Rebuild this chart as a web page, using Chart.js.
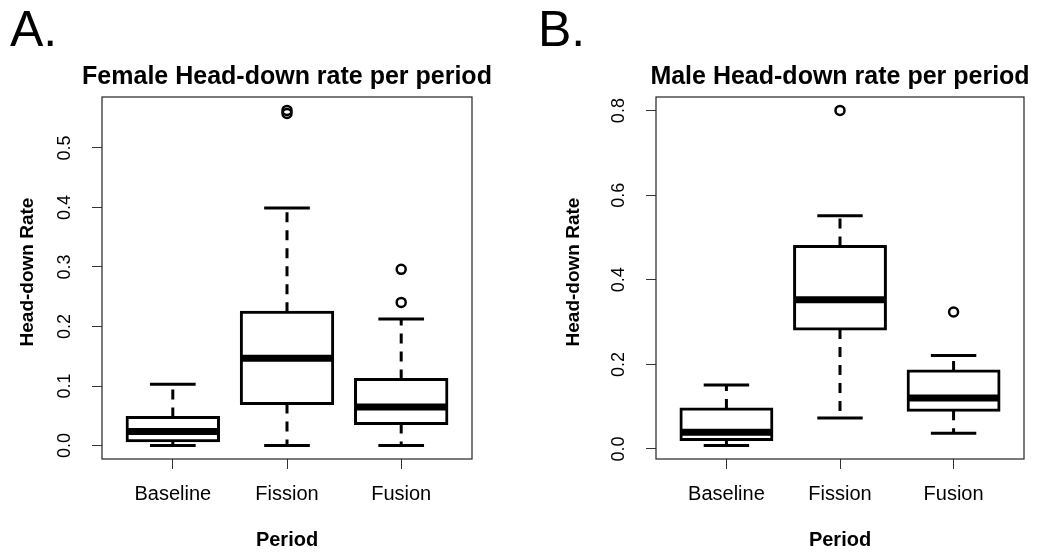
<!DOCTYPE html>
<html>
<head>
<meta charset="utf-8">
<script src="https://cdn.jsdelivr.net/npm/chart.js@4.4.0/dist/chart.umd.min.js"></script>
<style>
    html, body { margin: 0; padding: 0; background: #fff; }
    #wrap { position: relative; width: 1037px; height: 554px; overflow: hidden; }
    .panel { position: absolute; top: 0; height: 554px; }
    #panelA { left: 0; width: 527px; }
    #panelB { left: 527px; width: 510px; }
    .tag { position: absolute; top: 4px; font: 50px "Liberation Sans", Arial, sans-serif; line-height: 1; color: #000; }
</style>
</head>
<body>
<div id="wrap">
    <div class="panel" id="panelA"><canvas id="femaleChart"></canvas></div>
    <div class="panel" id="panelB"><canvas id="maleChart"></canvas></div>
    <div class="tag" style="left:10px">A.</div>
    <div class="tag" style="left:538px">B.</div>
</div>
<script>
    var periods = ['Baseline', 'Fission', 'Fusion'];

    // female head-down rate: whisker ends, quartiles, medians, outliers
    var femaleLow = [0.0, 0.0, 0.0];
    var femaleQ1 = [0.008, 0.0705, 0.037];
    var femaleMedian = [0.0235, 0.1465, 0.065];
    var femaleQ3 = [0.047, 0.224, 0.111];
    var femaleHigh = [0.103, 0.399, 0.2125];
    var femaleOutliers = [[], [0.558, 0.563], [0.2405, 0.296]];
    var femaleTicks = [0.0, 0.1, 0.2, 0.3, 0.4, 0.5];

    // male head-down rate
    var maleLow = [0.008, 0.0733, 0.0369];
    var maleQ1 = [0.0227, 0.2837, 0.0913];
    var maleMedian = [0.0393, 0.353, 0.1206];
    var maleQ3 = [0.0946, 0.479, 0.1844];
    var maleHigh = [0.151, 0.5515, 0.2213];
    var maleOutliers = [[], [0.8005], [0.324]];
    var maleTicks = [0.0, 0.2, 0.4, 0.6, 0.8];

    var fontFamily = '"Liberation Sans", Arial, Helvetica, sans-serif';
    Chart.defaults.font.family = fontFamily;
    Chart.defaults.color = '#000';

    // frame around the plot region, main title, rotated y tick labels and y axis title (R style)
    var rAxisLabels = {
        id: 'rAxisLabels',
        afterDraw: function (chart, args, opts) {
            var ctx = chart.ctx;
            var area = chart.chartArea;
            var yScale = chart.scales.y;
            ctx.save();
            ctx.strokeStyle = '#222';
            ctx.lineWidth = 1.2;
            ctx.strokeRect(area.left, area.top, area.right - area.left, area.bottom - area.top);
            ctx.fillStyle = '#000';
            ctx.textAlign = 'center';
            ctx.textBaseline = 'middle';
            ctx.font = 'bold 25px ' + fontFamily;
            ctx.fillText(opts.main, (area.left + area.right) / 2, 77);
            ctx.font = '18px ' + fontFamily;
            opts.ticks.forEach(function (v) {
                ctx.save();
                ctx.translate(area.left - 37, yScale.getPixelForValue(v));
                ctx.rotate(-Math.PI / 2);
                ctx.fillText(v.toFixed(1), 0, 0);
                ctx.restore();
            });
            ctx.font = 'bold 19px ' + fontFamily;
            ctx.translate(area.left - opts.titleOffset, (area.top + area.bottom) / 2 - 6);
            ctx.rotate(-Math.PI / 2);
            ctx.fillText(opts.title, 0, 0);
            ctx.restore();
        }
    };

    function boxplot(id, title, s, ticks, yWidth, rightPad, yTitleOffset) {
        var boxes = [], whiskers = [], caps = [], medians = [], points = [];
        var all = [];
        periods.forEach(function (p, i) {
            var x = i + 1;
            boxes.push({ x: x, y: [s.q1[i], s.q3[i]] });
            whiskers.push({ x: x, y: s.q3[i] }, { x: x, y: s.high[i] }, { x: x, y: null },
                { x: x, y: s.q1[i] }, { x: x, y: s.low[i] }, { x: x, y: null });
            caps.push({ x: x - 0.2, y: s.high[i] }, { x: x + 0.2, y: s.high[i] }, { x: x, y: null },
                { x: x - 0.2, y: s.low[i] }, { x: x + 0.2, y: s.low[i] }, { x: x, y: null });
            medians.push({ x: x - 0.4, y: s.median[i] }, { x: x + 0.4, y: s.median[i] }, { x: x, y: null });
            s.outliers[i].forEach(function (v) {
                points.push({ x: x, y: v });
            });
            all = all.concat([s.low[i], s.high[i]], s.outliers[i]);
        });

        // axis limits padded by 4% like base R
        var lo = Math.min.apply(null, all), hi = Math.max.apply(null, all);
        var pad = (hi - lo) * 0.04;
        var xPad = periods.length * 0.04;

        return new Chart(document.getElementById(id), {
            type: 'bar',
            data: {
                datasets: [{
                    type: 'line',
                    data: whiskers,
                    borderColor: '#000',
                    borderWidth: 3,
                    borderDash: [10, 8],
                    pointRadius: 0,
                    spanGaps: false,
                    order: 4
                }, {
                    type: 'bar',
                    data: boxes,
                    backgroundColor: '#fff',
                    borderColor: '#000',
                    borderWidth: 3,
                    borderSkipped: false,
                    inflateAmount: 1.5,
                    barPercentage: 0.8,
                    categoryPercentage: 1,
                    order: 3
                }, {
                    type: 'line',
                    data: caps,
                    borderColor: '#000',
                    borderWidth: 3,
                    pointRadius: 0,
                    spanGaps: false,
                    order: 2
                }, {
                    type: 'line',
                    data: medians,
                    borderColor: '#000',
                    borderWidth: 7,
                    borderCapStyle: 'butt',
                    pointRadius: 0,
                    spanGaps: false,
                    order: 1
                }, {
                    type: 'scatter',
                    data: points,
                    pointRadius: 4.5,
                    pointBorderWidth: 2.5,
                    borderColor: '#000',
                    backgroundColor: 'rgba(0,0,0,0)',
                    order: 0
                }]
            },
            options: {
                responsive: true,
                maintainAspectRatio: false,
                animation: false,
                layout: { padding: { left: 0, right: rightPad, top: 97, bottom: 0 } },
                plugins: {
                    legend: { display: false },
                    tooltip: { enabled: false },
                    title: { display: false },
                    rAxisLabels: { main: title, ticks: ticks, title: 'Head-down Rate', titleOffset: yTitleOffset }
                },
                scales: {
                    x: {
                        type: 'linear',
                        min: 0.5 - xPad,
                        max: periods.length + 0.5 + xPad,
                        offset: false,
                        afterBuildTicks: function (sc) {
                            sc.ticks = periods.map(function (p, i) { return { value: i + 1 }; });
                        },
                        afterFit: function (sc) { sc.height = 95; },
                        ticks: {
                            callback: function (v, i) { return periods[i]; },
                            font: { size: 20 },
                            color: '#000',
                            padding: 13,
                            maxRotation: 0,
                            autoSkip: false
                        },
                        grid: { drawOnChartArea: false, tickLength: 10, color: '#333', offset: false },
                        border: { display: false },
                        title: {
                            display: true,
                            text: 'Period',
                            color: '#000',
                            font: { size: 20, weight: 'bold' },
                            padding: { top: 0, bottom: 2 }
                        }
                    },
                    y: {
                        type: 'linear',
                        min: lo - pad,
                        max: hi + pad,
                        afterBuildTicks: function (sc) {
                            sc.ticks = ticks.map(function (v) { return { value: v }; });
                        },
                        afterFit: function (sc) { sc.width = yWidth; },
                        ticks: { display: false },
                        grid: { drawOnChartArea: false, tickLength: 10, color: '#333' },
                        border: { display: false }
                    }
                }
            },
            plugins: [rAxisLabels]
        });
    }

    boxplot('femaleChart', 'Female Head-down rate per period', {
        low: femaleLow, q1: femaleQ1, median: femaleMedian, q3: femaleQ3, high: femaleHigh, outliers: femaleOutliers
    }, femaleTicks, 102, 55, 74);

    boxplot('maleChart', 'Male Head-down rate per period', {
        low: maleLow, q1: maleQ1, median: maleMedian, q3: maleQ3, high: maleHigh, outliers: maleOutliers
    }, maleTicks, 129, 13, 82);
</script>
</body>
</html>
